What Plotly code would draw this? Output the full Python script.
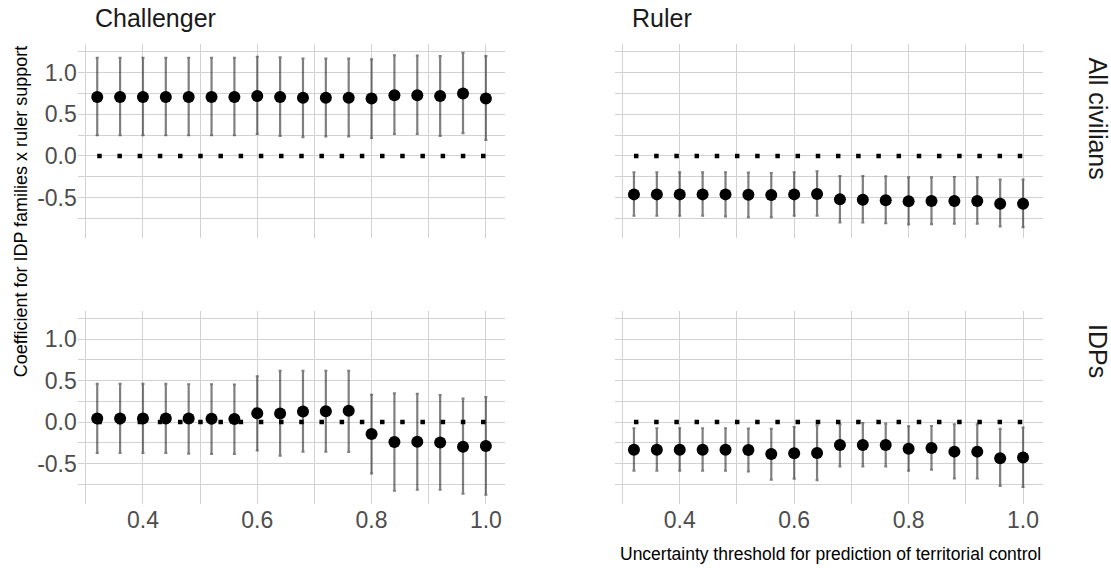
import plotly.graph_objects as go

# ---------------- data ----------------
thresholds = [0.32, 0.36, 0.40, 0.44, 0.48, 0.52, 0.56, 0.60, 0.64,
              0.68, 0.72, 0.76, 0.80, 0.84, 0.88, 0.92, 0.96, 1.00]

# Challenger / All civilians
ch_all_est = [0.71, 0.71, 0.71, 0.71, 0.71, 0.71, 0.71, 0.72, 0.71,
              0.70, 0.70, 0.70, 0.69, 0.73, 0.73, 0.72, 0.75, 0.69]
ch_all_hi = [1.18, 1.18, 1.18, 1.18, 1.18, 1.18, 1.18, 1.19, 1.185,
             1.17, 1.17, 1.17, 1.16, 1.21, 1.205, 1.20, 1.24, 1.20]
ch_all_lo = [0.25, 0.25, 0.25, 0.25, 0.25, 0.25, 0.25, 0.266, 0.242,
             0.226, 0.234, 0.234, 0.218, 0.266, 0.266, 0.242, 0.274, 0.194]

# Ruler / All civilians
ru_all_est = [-0.462, -0.462, -0.462, -0.462, -0.462, -0.466, -0.47, -0.462, -0.458,
              -0.522, -0.526, -0.534, -0.546, -0.542, -0.542, -0.542, -0.574, -0.574]
ru_all_hi = [-0.197, -0.197, -0.197, -0.197, -0.197, -0.201, -0.205, -0.197, -0.185,
             -0.241, -0.241, -0.245, -0.257, -0.257, -0.253, -0.257, -0.285, -0.285]
ru_all_lo = [-0.719, -0.719, -0.719, -0.719, -0.727, -0.735, -0.735, -0.719, -0.719,
             -0.80, -0.80, -0.807, -0.823, -0.82, -0.815, -0.815, -0.847, -0.855]

# Challenger / IDPs
ch_idp_est = [0.044, 0.044, 0.044, 0.044, 0.044, 0.040, 0.036, 0.107, 0.103,
              0.127, 0.131, 0.135, -0.143, -0.242, -0.238, -0.246, -0.298, -0.290]
ch_idp_hi = [0.46, 0.46, 0.46, 0.46, 0.456, 0.456, 0.452, 0.552, 0.619,
             0.619, 0.619, 0.619, 0.329, 0.345, 0.341, 0.325, 0.282, 0.302]
ch_idp_lo = [-0.373, -0.373, -0.373, -0.373, -0.381, -0.385, -0.385, -0.341, -0.405,
             -0.357, -0.357, -0.361, -0.619, -0.829, -0.817, -0.817, -0.865, -0.877]

# Ruler / IDPs
ru_idp_est = [-0.333, -0.333, -0.333, -0.333, -0.333, -0.337, -0.385, -0.377, -0.373,
              -0.278, -0.278, -0.278, -0.321, -0.313, -0.357, -0.357, -0.437, -0.429]
ru_idp_hi = [-0.075, -0.075, -0.075, -0.075, -0.075, -0.079, -0.083, -0.06, -0.04,
             -0.028, -0.012, -0.02, -0.052, -0.048, -0.028, -0.028, -0.083, -0.067]
ru_idp_lo = [-0.587, -0.587, -0.587, -0.587, -0.587, -0.595, -0.694, -0.683, -0.702,
             -0.536, -0.536, -0.536, -0.587, -0.575, -0.679, -0.679, -0.77, -0.782]

zero_line = [0.0] * len(thresholds)

col_labels = ["Challenger", "Ruler"]
row_labels = ["All civilians", "IDPs"]
x_tick_vals = [0.4, 0.6, 0.8, 1.0]
x_tick_text = ["0.4", "0.6", "0.8", "1.0"]
y_tick_vals = [-0.5, 0.0, 0.5, 1.0]
y_tick_text = ["-0.5", "0.0", "0.5", "1.0"]
x_title = "Uncertainty threshold for prediction of territorial control"
y_title = "Coefficient for IDP families x ruler support"

# ---------------- layout geometry ----------------
W, H = 1111, 568
FONT = "Liberation Sans, Arial, sans-serif"
GRID = "#d2d2d2"

def px_x(v):
    return v / W

def px_y(v):
    return 1 - v / H

col_dom = [[px_x(77.8), px_x(505.3)], [px_x(614.5), px_x(1042.5)]]
row_dom = [[px_y(237.7), px_y(44.0)], [px_y(503.5), px_y(310.5)]]

panels = [
    (0, 0, ch_all_est, ch_all_hi, ch_all_lo),
    (0, 1, ru_all_est, ru_all_hi, ru_all_lo),
    (1, 0, ch_idp_est, ch_idp_hi, ch_idp_lo),
    (1, 1, ru_idp_est, ru_idp_hi, ru_idp_lo),
]

all_y = ch_all_hi + ch_all_lo + ru_all_hi + ru_all_lo + ch_idp_hi + ch_idp_lo + ru_idp_hi + ru_idp_lo
ymin, ymax = min(all_y), max(all_y)
ypad = 0.05 * (ymax - ymin)
xmin, xmax = min(thresholds), max(thresholds)
xpad = 0.05 * (xmax - xmin)

fig = go.Figure()
layout = {}
for i, (r, c, est, hi, lo) in enumerate(panels):
    n = i + 1
    xa = "x" if n == 1 else f"x{n}"
    ya = "y" if n == 1 else f"y{n}"
    fig.add_trace(go.Scatter(
        x=thresholds, y=zero_line, mode="lines", xaxis=xa, yaxis=ya,
        line=dict(color="black", width=4.5, dash="4.5px,15.7px"),
        hoverinfo="skip", showlegend=False))
    fig.add_trace(go.Scatter(
        x=thresholds, y=est, mode="markers", xaxis=xa, yaxis=ya,
        marker=dict(color="black", size=12),
        error_y=dict(type="data", symmetric=False,
                     array=[h - e for h, e in zip(hi, est)],
                     arrayminus=[e - l for e, l in zip(est, lo)],
                     color="rgba(0,0,0,0.5)", thickness=2.2, width=1.5),
        showlegend=False))
    xkey = "xaxis" if n == 1 else f"xaxis{n}"
    ykey = "yaxis" if n == 1 else f"yaxis{n}"
    layout[xkey] = dict(
        domain=col_dom[c], anchor=ya, range=[xmin - xpad, xmax + xpad],
        tickmode="array", tickvals=x_tick_vals, ticktext=x_tick_text,
        showticklabels=(r == 1), showgrid=True, gridcolor=GRID, gridwidth=1,
        minor=dict(tickvals=[0.3, 0.5, 0.7, 0.9], showgrid=True, gridcolor=GRID, gridwidth=1),
        zeroline=False, showline=False, ticks="",
        tickfont=dict(family=FONT, size=23, color="#4d4d4d"))
    layout[ykey] = dict(
        domain=row_dom[r], anchor=xa, range=[ymin - ypad, ymax + ypad],
        tickmode="array", tickvals=y_tick_vals, ticktext=y_tick_text,
        showticklabels=(c == 0), showgrid=True, gridcolor=GRID, gridwidth=1,
        minor=dict(tickvals=[-0.75, -0.25, 0.25, 0.75, 1.25], showgrid=True, gridcolor=GRID, gridwidth=1),
        zeroline=False, showline=False, ticks="",
        tickfont=dict(family=FONT, size=23, color="#4d4d4d"))

annotations = []
# column strips
for c, lab in enumerate(col_labels):
    annotations.append(dict(
        text=lab, xref="paper", yref="paper", showarrow=False,
        x=col_dom[c][0] + px_x(15), y=px_y(18.3), xanchor="left", yanchor="middle",
        font=dict(family=FONT, size=25, color="#1a1a1a")))
# row strips
for r, lab in enumerate(row_labels):
    annotations.append(dict(
        text=lab, xref="paper", yref="paper", showarrow=False, textangle=90,
        x=px_x(1097.5), y=row_dom[r][1] - 11 / H, xanchor="center", yanchor="top",
        font=dict(family=FONT, size=25, color="#1a1a1a")))
annotations.append(dict(
    text=x_title, xref="paper", yref="paper", showarrow=False,
    x=col_dom[1][1], y=px_y(554), xanchor="right", yanchor="middle",
    font=dict(family=FONT, size=17.5, color="black")))
annotations.append(dict(
    text=y_title, xref="paper", yref="paper", showarrow=False, textangle=-90,
    x=px_x(20.8), y=row_dom[0][1], xanchor="center", yanchor="top",
    font=dict(family=FONT, size=18, color="black")))

fig.update_layout(
    width=W, height=H, margin=dict(l=0, r=0, t=0, b=0),
    paper_bgcolor="white", plot_bgcolor="white",
    annotations=annotations, **layout)

fig.write_html("out.html",
               config={"displayModeBar": False},
               post_script="document.body.style.margin='0';document.body.style.overflow='hidden';")
